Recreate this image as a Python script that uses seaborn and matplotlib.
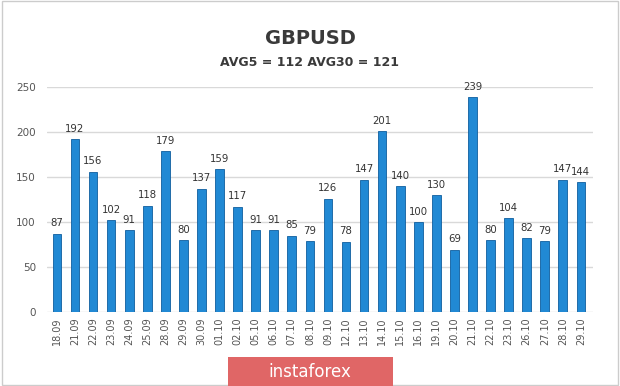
import matplotlib.pyplot as plt
import seaborn as sns
import pandas as pd

dates = ["18.09", "21.09", "22.09", "23.09", "24.09", "25.09", "28.09", "29.09",
         "30.09", "01.10", "02.10", "05.10", "06.10", "07.10", "08.10", "09.10",
         "12.10", "13.10", "14.10", "15.10", "16.10", "19.10", "20.10", "21.10",
         "22.10", "23.10", "26.10", "27.10", "28.10", "29.10"]
values = [87, 192, 156, 102, 91, 118, 179, 80, 137, 159, 117, 91, 91, 85, 79, 126,
          78, 147, 201, 140, 100, 130, 69, 239, 80, 104, 82, 79, 147, 144]
yticks = [0, 50, 100, 150, 200, 250]

df = pd.DataFrame({"date": dates, "value": values})

sns.set_theme(style="white")
plt.rcParams['font.family'] = ['DejaVu Sans']

fig = plt.figure(figsize=(6.2, 3.86), dpi=100)
ax = fig.add_axes([47 / 620, 1 - 312 / 386, 546 / 620, 225 / 386])

sns.barplot(data=df, x="date", y="value", color="#2189d4", width=0.48,
            edgecolor="#0f5e9e", linewidth=0.6, saturation=1, ax=ax, zorder=3)

# value labels above bars
for i, v in enumerate(values):
    ax.text(i, v + 6, str(v), ha="center", va="bottom", fontsize=7.3,
            color="#333333", clip_on=False)

ax.set_ylim(0, 250)
ax.set_xlim(-0.55, 29.67)
ax.set_yticks(yticks)
ax.set_yticklabels([str(t) for t in yticks], fontsize=7.5, color="#555555")
ax.yaxis.grid(True, color="#d9d9d9", linewidth=1, zorder=0)
ax.tick_params(axis="x", labelrotation=90, labelsize=7, colors="#555555", length=0, pad=4)
ax.tick_params(axis="y", length=0, pad=8)
ax.set_xlabel("")
ax.set_ylabel("")
for s in ax.spines.values():
    s.set_visible(False)

fig.text(0.5, 1 - 38 / 386, "GBPUSD", ha="center", va="center", fontsize=14,
         fontweight="bold", color="#3a3a3a")
fig.text(0.5, 1 - 62 / 386, "AVG5 = 112 AVG30 = 121", ha="center", va="center",
         fontsize=9, fontweight="bold", color="#3a3a3a")

# frame around figure
fig.patches.append(plt.Rectangle((0.003, 0.003), 0.994, 0.994, transform=fig.transFigure,
                                 fill=False, edgecolor="#cccccc", linewidth=1))
# instaforex banner
fig.patches.append(plt.Rectangle((228 / 620, 0), 165 / 620, 29 / 386, transform=fig.transFigure,
                                 facecolor="#e06666", edgecolor="none"))
fig.text(310 / 620, 14 / 386, "instaforex", ha="center", va="center", fontsize=12,
         color="white")

fig.savefig("out.png", dpi=100)
